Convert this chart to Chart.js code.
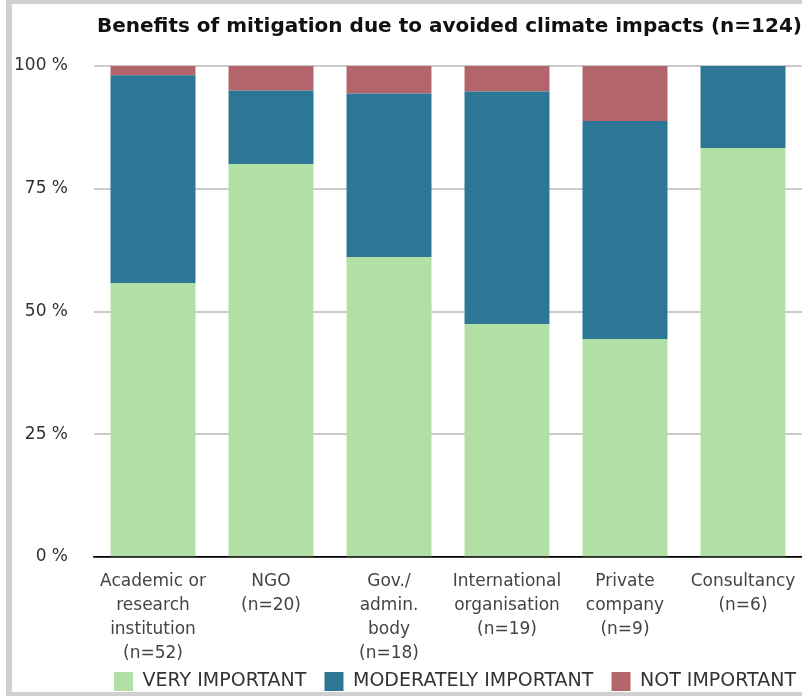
<!DOCTYPE html>
<html>
<head>
<meta charset="utf-8">
<script src="https://cdn.jsdelivr.net/npm/chart.js@4.4.0/dist/chart.umd.min.js"></script>
<style>
  body { margin: 0; background: #fff; }
  #wrap { position: relative; width: 802px; height: 696px; overflow: hidden; }
  #chart { position: absolute; left: 0; top: 0; }
  .frame { position: absolute; background: #d0d0d0; }
</style>
</head>
<body>
<div id="wrap">
  <canvas id="chart" width="802" height="696"></canvas>
  <div class="frame" style="left:6px; top:0; width:796px; height:4px;"></div>
  <div class="frame" style="left:6px; top:0; width:6px; height:696px;"></div>
  <div class="frame" style="left:6px; top:692px; width:796px; height:4px;"></div>
</div>
<script>
var categories = [
    ["Academic or", "research", "institution", "(n=52)"],
    ["NGO", "(n=20)"],
    ["Gov./", "admin.", "body", "(n=18)"],
    ["International", "organisation", "(n=19)"],
    ["Private", "company", "(n=9)"],
    ["Consultancy", "(n=6)"]
];
var seriesNames = ["VERY IMPORTANT", "MODERATELY IMPORTANT", "NOT IMPORTANT"];
var veryImportant = [55.8, 80.0, 61.1, 47.4, 44.4, 83.3];
var moderatelyImportant = [42.3, 15.0, 33.3, 47.4, 44.4, 16.7];
var notImportant = [1.9, 5.0, 5.6, 5.2, 11.2, 0];
var yTicks = [0, 25, 50, 75, 100];

var fontFamily = "'DejaVu Sans', Verdana, sans-serif";

// legend spacing: pad the first two names so the gap before the next box is wider
function legendName(i)
{
    return i < seriesNames.length - 1 ? seriesNames[i] + "  " : seriesNames[i];
}

var chartElement = document.getElementById("chart");
var benefitsChart = new Chart(chartElement, {
    type: 'bar',
    data: {
        labels: categories,
        datasets: [{
            label: legendName(0),
            data: veryImportant,
            backgroundColor: '#b2dfa3',
            borderWidth: 0
        },
        {
            label: legendName(1),
            data: moderatelyImportant,
            backgroundColor: '#2d7796',
            borderWidth: 0
        },
        {
            label: legendName(2),
            data: notImportant,
            backgroundColor: '#b4656c',
            borderWidth: 0
        }]
    },
    options: {
        responsive: false,
        animation: false,
        layout: {
            padding: {left: 0, right: 0, top: 0, bottom: -5}
        },
        datasets: {
            bar: {
                categoryPercentage: 1.0,
                barPercentage: 0.72
            }
        },
        scales: {
            x: {
                stacked: true,
                grid: {display: false},
                border: {display: true, color: '#000', width: 1.5},
                ticks: {
                    color: '#444',
                    padding: 5,
                    maxRotation: 0,
                    autoSkip: false,
                    font: {family: fontFamily, size: 17, lineHeight: 1.412}
                },
                afterFit: function (scale) { scale.height = 109; }
            },
            y: {
                stacked: true,
                min: 0,
                max: 100,
                afterBuildTicks: function (scale) {
                    scale.ticks = yTicks.map(function (v) { return {value: v}; });
                },
                grid: {
                    color: function (ctx) { return ctx.tick && ctx.tick.value === 0 ? '#000' : '#cacaca'; },
                    lineWidth: function (ctx) { return ctx.tick && ctx.tick.value === 0 ? 1.5 : 2; },
                    drawTicks: false
                },
                border: {display: false},
                ticks: {
                    color: '#333',
                    padding: 26,
                    font: {family: fontFamily, size: 17},
                    callback: function (v) { return v + ' %'; }
                },
                afterFit: function (scale) { scale.width = 94; }
            }
        },
        plugins: {
            title: {
                display: true,
                text: 'Benefits of mitigation due to avoided climate impacts (n=124)',
                color: '#111',
                font: {family: fontFamily, size: 20, weight: 'bold', lineHeight: 1.2},
                padding: {top: 15, bottom: 27},
                align: 'end'
            },
            legend: {
                position: 'bottom',
                align: 'end',
                labels: {
                    color: '#333',
                    boxWidth: 19,
                    boxHeight: 19,
                    padding: 6,
                    font: {family: fontFamily, size: 19}
                }
            },
            tooltip: {enabled: false}
        }
    }
});
</script>
</body>
</html>
